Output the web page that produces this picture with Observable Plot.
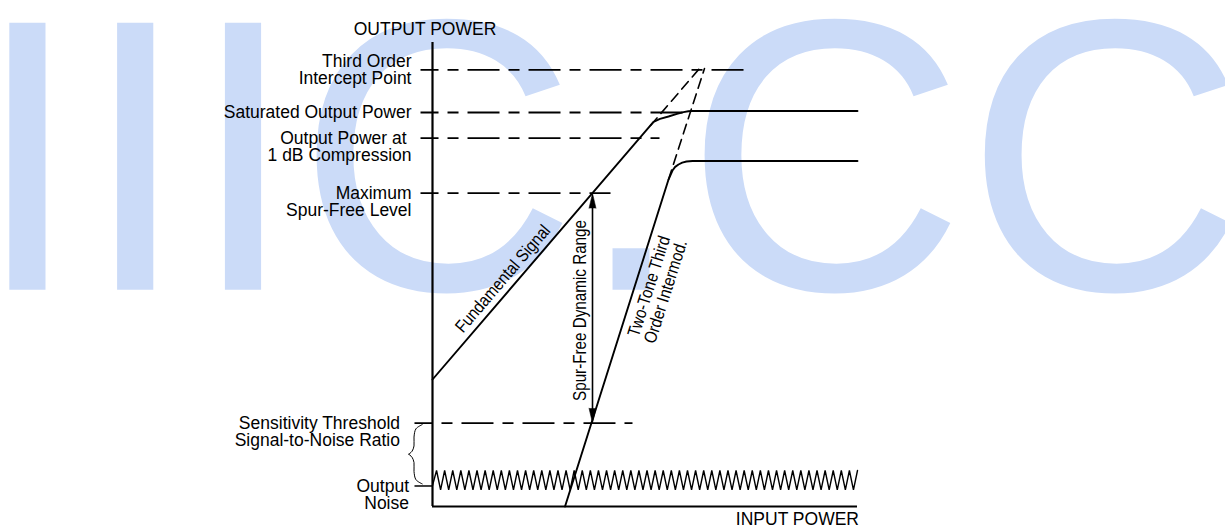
<!DOCTYPE html>
<html>
<head>
<meta charset="utf-8">
<script src="https://cdn.jsdelivr.net/npm/d3@7"></script>
<script src="https://cdn.jsdelivr.net/npm/@observablehq/plot@0.6"></script>
<style>
  html, body { margin: 0; padding: 0; background: #fff; }
  svg { display: block; }
</style>
</head>
<body>
<div id="chart"></div>
<script>
// ---------- DATA (abstract units: input power 0..105, output power 0..100) ----------
const levelNames = [
  "Third Order Intercept Point",
  "Saturated Output Power",
  "Output Power at 1 dB Compression",
  "Maximum Spur-Free Level",
  "Sensitivity Threshold"
];
const levelY      = [94.12, 84.91, 79.38, 67.52, 17.95];
const levelStartX = [-2.96, -2.96, -2.96, -2.96, -4.45];
const levelEndX   = [78.57, 62.26, 56.08, 43.98, 49.41];

const fundamentalX = [0, 54.60, 56.20, 58.31, 60.40, 62.01, 63.20, 64.24, 105];
const fundamentalY = [27.37, 82.87, 83.55, 84.05, 84.60, 85.00, 85.18, 85.24, 85.24];
const fundamentalExtX = [53.86, 65.96];
const fundamentalExtY = [82.11, 94.40];

const imdX = [32.74, 58.31, 58.85, 59.29, 59.95, 60.78, 61.70, 62.75, 64.24, 105];
const imdY = [0, 70.47, 71.55, 72.41, 73.20, 73.71, 74.10, 74.35, 74.46, 74.46];
const imdExtX = [58.31, 67.20];
const imdExtY = [70.47, 94.40];

const noiseTickY = 4.42;
const noiseTickX = [-4.45, 0];
const noiseY = [
  4.53,
  7.76, 3.56, 7.76, 3.56, 7.76, 3.56, 7.76, 3.56, 7.76, 3.56,
  7.76, 3.56, 7.76, 3.56, 7.76, 3.56, 7.76, 3.56, 7.76, 3.56,
  7.76, 3.56, 7.76, 3.56, 7.76, 3.56, 7.76, 3.56, 7.76, 3.56,
  7.76, 3.56, 7.76, 3.56, 7.76, 3.56, 7.76, 3.56, 7.76, 3.56,
  7.76, 3.56, 7.76, 3.56, 7.76, 3.56, 7.76, 3.56, 7.76, 3.56,
  7.76, 3.56, 7.76, 3.56, 7.76, 3.56, 7.76, 3.56, 7.76, 3.56,
  7.76, 3.56, 7.76, 3.56, 7.76, 3.56, 7.76, 3.56, 7.76, 3.56,
  7.76, 3.56, 7.76, 3.56, 7.76, 3.56, 7.76, 3.56, 7.76, 3.56,
  7.76, 3.56, 7.76, 3.56, 7.76, 3.56, 7.76, 3.56, 7.76, 3.56,
  7.76, 3.56, 7.76, 3.56, 7.76, 3.56, 7.76, 3.56, 7.76, 3.56,
  7.76, 3.56, 7.76, 3.56,
  7.76
];

const dynamicRangeX = 39.53;

const leftLabelsCentered = [
  {text: "Third Order\nIntercept Point", level: 0},
  {text: "Saturated Output Power", level: 1}
];
const leftLabelsTop = [
  {text: "Output Power at\u00a0\n1 dB Compression", level: 2},
  {text: "Maximum\nSpur-Free Level", level: 3}
];
const sensitivityLabel = "Sensitivity Threshold\nSignal-to-Noise Ratio";
const noiseLabel = "Output\nNoise";

const curveLabels = [
  {text: "Fundamental Signal", x: 17.37, y: 49.07, angle: -49.4},
  {text: "Spur-Free Dynamic Range", x: 36.44, y: 42.24, angle: -90},
  {text: "Two-Tone Third\nOrder Intermod.", x: 55.56, y: 46.88, angle: -72.4}
];
const watermark = "IIIC.CC";

// ---------- derived tables ----------
const levels = levelNames.map((name, i) => ({name, y: levelY[i], x1: levelStartX[i], x2: levelEndX[i]}));
const fund = fundamentalX.map((x, i) => ({x, y: fundamentalY[i]}));
const fundExt = fundamentalExtX.map((x, i) => ({x, y: fundamentalExtY[i]}));
const imd = imdX.map((x, i) => ({x, y: imdY[i]}));
const imdExt = imdExtX.map((x, i) => ({x, y: imdExtY[i]}));
const spurTop = levelY[3], sens = levelY[4];

// curly brace between sensitivity threshold and output noise
function brace(yTop, yBot) {
  const h = yTop - yBot, m = (yTop + yBot) / 2;
  const half = [
    [-2.54, 0], [-4.08, 0.07], [-4.57, 0.21], [-4.57, 0.36], [-5.06, 0.45], [-5.86, 0.5]
  ];
  const top = half.map(([x, f]) => ({x, y: yTop - f * h, z: "a"}));
  const bot = half.map(([x, f]) => ({x, y: yBot + f * h, z: "b"}));
  return top.concat(bot);
}
const bracePts = brace(sens - 0.3, noiseTickY + 0.45);

const font = '"Liberation Sans", Arial, Helvetica, sans-serif';
const ink = "#000";
const fs = 17.5;

const chart = Plot.plot({
  width: 1225,
  height: 531,
  marginLeft: 432,
  marginRight: 368,
  marginTop: 42,
  marginBottom: 25,
  x: {domain: [0, 105], axis: null},
  y: {domain: [0, 100], axis: null},
  style: {fontFamily: font, background: "#fff", color: ink},
  marks: [
    // watermark
    Plot.text([watermark], {
      text: d => d, frameAnchor: "top-left", textAnchor: "start", lineAnchor: "middle",
      dx: -459, dy: 123, fontSize: 388, fill: "#cbdbf8"
    }),
    // axes
    Plot.ruleX([0], {y1: 0, y2: 100, stroke: ink, strokeWidth: 2.2}),
    Plot.ruleY([0], {x1: 0, x2: 105, stroke: ink, strokeWidth: 2.2}),
    // reference levels (dash-dot)
    Plot.link(levels, {
      x1: "x1", x2: "x2", y1: "y", y2: "y", stroke: ink, strokeWidth: 1.8,
      strokeDasharray: "32,9,11,9", strokeDashoffset: 14
    }),
    // noise tick
    Plot.link([noiseTickY], {x1: noiseTickX[0], x2: noiseTickX[1], y1: d => d, y2: d => d, stroke: ink, strokeWidth: 1.5}),
    // noise
    Plot.line(noiseY, {x: (d, i) => i, y: d => d, stroke: ink, strokeWidth: 1.4, strokeLinejoin: "miter"}),
    // fundamental
    Plot.line(fund, {x: "x", y: "y", stroke: ink, strokeWidth: 1.9}),
    Plot.line(fundExt, {x: "x", y: "y", stroke: ink, strokeWidth: 1.6, strokeDasharray: "10,6"}),
    // third order intermod
    Plot.line(imd, {x: "x", y: "y", stroke: ink, strokeWidth: 1.9}),
    Plot.line(imdExt, {x: "x", y: "y", stroke: ink, strokeWidth: 1.6, strokeDasharray: "10,6"}),
    // spur-free dynamic range arrow
    Plot.ruleX([dynamicRangeX], {y1: sens + 1.5, y2: spurTop - 1.5, stroke: ink, strokeWidth: 1.6}),
    Plot.vector([{x: dynamicRangeX, y: spurTop, rot: 0}, {x: dynamicRangeX, y: sens, rot: 180}], {
      x: "x", y: "y", rotate: "rot", length: 15, shape: "spike", anchor: "end", r: 3.5,
      fill: ink, stroke: ink, strokeWidth: 0.5
    }),
    // brace
    Plot.line(bracePts, {x: "x", y: "y", z: "z", stroke: ink, strokeWidth: 1, curve: "catmull-rom"}),
    // left labels
    Plot.text(leftLabelsCentered, {
      x: 0, y: d => levelY[d.level], text: "text", textAnchor: "end", lineAnchor: "middle",
      dx: -21, fontSize: fs, lineHeight: 1.0, fill: ink
    }),
    Plot.text(leftLabelsTop, {
      x: 0, y: d => levelY[d.level], text: "text", textAnchor: "end", lineAnchor: "middle",
      dx: -21, dy: fs / 2, fontSize: fs, lineHeight: 1.0, fill: ink
    }),
    Plot.text([sensitivityLabel], {
      x: 0, y: sens, text: d => d, textAnchor: "end", lineAnchor: "middle",
      dx: -32.5, dy: fs / 2, fontSize: fs, lineHeight: 1.0, fill: ink
    }),
    Plot.text([noiseLabel], {
      x: 0, y: noiseTickY, text: d => d, textAnchor: "end", lineAnchor: "middle",
      dx: -23.5, dy: fs / 2, fontSize: fs, lineHeight: 1.0, fill: ink
    }),
    // axis titles
    Plot.text(["OUTPUT POWER"], {
      text: d => d, frameAnchor: "top-left", textAnchor: "middle", lineAnchor: "middle",
      dx: -7.5, dy: -12.7, fontSize: fs, fill: ink
    }),
    Plot.text(["INPUT POWER"], {
      text: d => d, frameAnchor: "bottom-right", textAnchor: "end", lineAnchor: "middle",
      dx: 1.5, dy: 13, fontSize: fs, fill: ink
    }),
    // curve labels
    Plot.text(curveLabels, {
      x: "x", y: "y", text: "text", rotate: "angle", textAnchor: "middle", lineAnchor: "middle",
      fontSize: fs, lineHeight: 1.0, fill: ink
    })
  ]
});

// condense the rotated curve labels along their baseline
const curveTexts = new Set(curveLabels.map(d => d.text.replace(/\n/g, "")));
chart.querySelectorAll("text").forEach(t => {
  if (curveTexts.has(t.textContent.replace(/\n/g, ""))) {
    const tr = t.getAttribute("transform") || "";
    t.setAttribute("transform", tr + " scale(0.87,1)");
  }
});

document.getElementById("chart").appendChild(chart);
</script>
</body>
</html>
